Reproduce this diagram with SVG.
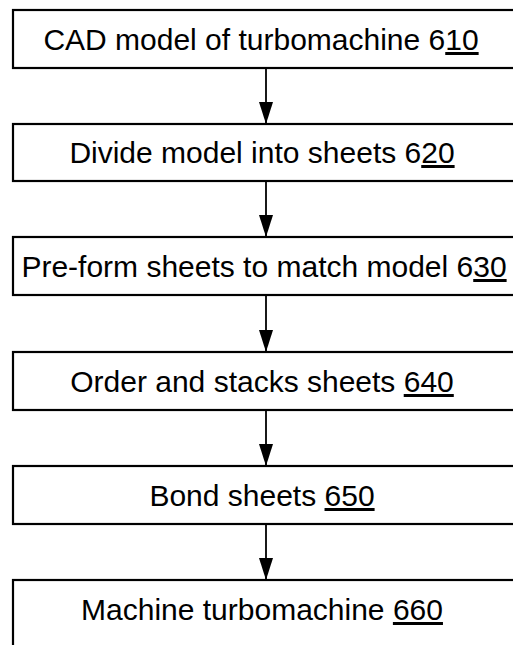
<svg xmlns="http://www.w3.org/2000/svg" width="513" height="645" viewBox="0 0 513 645">
<style>
.box{fill:#fff;stroke:#000;stroke-width:2.2}
.t{font-family:"Liberation Sans",Arial,sans-serif;font-size:30px;fill:#000;text-anchor:middle}
.u{text-decoration:underline}
.c{stroke:#000;stroke-width:1.8;fill:none}
</style>
<defs>
<marker id="ah" markerWidth="22" markerHeight="14" refX="22" refY="7" orient="auto" markerUnits="userSpaceOnUse" viewBox="0 0 22 14">
<path d="M0,0 L22,7 L0,14 Z" fill="#000"/>
</marker>
</defs>
<g id="connectors">
<line class="c" x1="266" y1="68" x2="266" y2="124" marker-end="url(#ah)"/>
<line class="c" x1="266" y1="181" x2="266" y2="237" marker-end="url(#ah)"/>
<line class="c" x1="266" y1="295" x2="266" y2="352" marker-end="url(#ah)"/>
<line class="c" x1="266" y1="410" x2="266" y2="466" marker-end="url(#ah)"/>
<line class="c" x1="266" y1="524" x2="266" y2="580" marker-end="url(#ah)"/>
</g>
<g id="n610"><rect class="box" x="13" y="10" width="520" height="58"/><text class="t" x="261" y="50">CAD model of turbomachine 6<tspan class="u">10</tspan></text></g>
<g id="n620"><rect class="box" x="13" y="124" width="520" height="57"/><text class="t" x="262" y="163">Divide model into sheets 6<tspan class="u">20</tspan></text></g>
<g id="n630"><rect class="box" x="13" y="237" width="520" height="58"/><text class="t" x="264" y="277">Pre-form sheets to match model 6<tspan class="u">30</tspan></text></g>
<g id="n640"><rect class="box" x="13" y="352" width="520" height="58"/><text class="t" x="262" y="392">Order and stacks sheets <tspan class="u">640</tspan></text></g>
<g id="n650"><rect class="box" x="13" y="466" width="520" height="58"/><text class="t" x="262" y="506">Bond sheets <tspan class="u">650</tspan></text></g>
<g id="n660"><rect class="box" x="13" y="580" width="520" height="80"/><text class="t" x="262" y="620">Machine turbomachine <tspan class="u">660</tspan></text></g>
</svg>
